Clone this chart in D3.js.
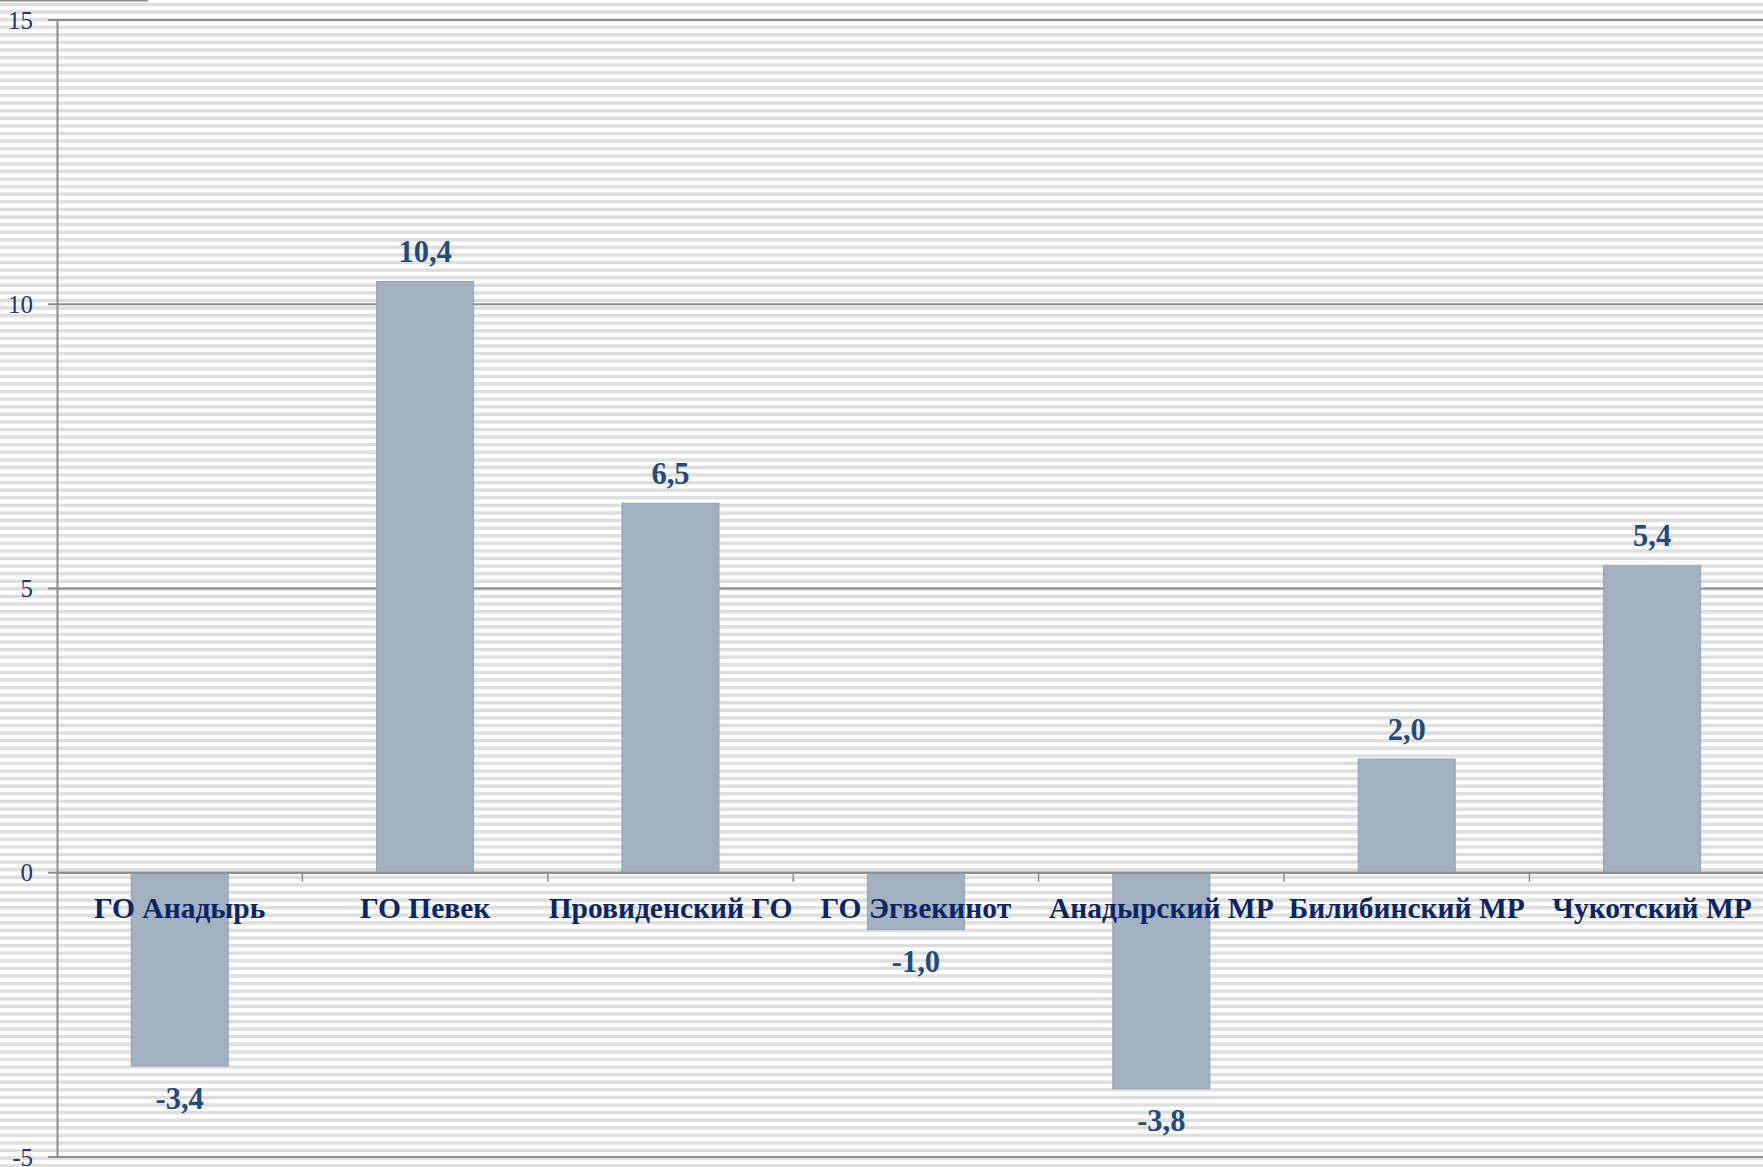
<!DOCTYPE html>
<html><head><meta charset="utf-8">
<script src="https://cdn.jsdelivr.net/npm/d3@7"></script>
<style>html,body{margin:0;padding:0;background:#fff;overflow:hidden}</style>
</head><body>
<script>
const categories = ["ГО Анадырь","ГО Певек","Провиденский ГО","ГО Эгвекинот","Анадырский МР","Билибинский МР","Чукотский МР"];
const values = [-3.4, 10.4, 6.5, -1.0, -3.8, 2.0, 5.4];
const valueLabels = ["-3,4","10,4","6,5","-1,0","-3,8","2,0","5,4"];
const yTicks = [-5, 0, 5, 10, 15];

(function () {
const W = 1763, H = 1167;
const mLeft = 57, mRight = 57 + 7 * 245.4, mTop = 20, mBottom = 1157;
const svg = d3.select("body").append("svg").attr("width", W).attr("height", H);

// striped background
const period = 7.59;
svg.append("g").selectAll("rect").data(d3.range(-1, Math.ceil(H / period) + 1)).join("rect")
  .attr("x", 0).attr("width", W)
  .attr("y", k => 4.45 + k * period - 1.7).attr("height", 3.4)
  .attr("fill", "#dedede");

// partial border top-left
svg.append("line").attr("x1", 0).attr("x2", 148).attr("y1", 0.5).attr("y2", 0.5)
  .attr("stroke", "#8c8c8c").attr("stroke-width", 2);

const x = d3.scaleBand().domain(categories).range([mLeft, mRight]).paddingInner(0).paddingOuter(0);
const y = d3.scaleLinear().domain([-5, 15]).range([mBottom, mTop]);

// gridlines
svg.append("g").selectAll("line").data(yTicks).join("line")
  .attr("x1", mLeft - 9).attr("x2", W).attr("y1", d => y(d)).attr("y2", d => y(d))
  .attr("stroke", "#8c8c8c").attr("stroke-width", 2);

// y axis
const yAxis = svg.append("g").attr("transform", `translate(${mLeft},0)`)
  .call(d3.axisLeft(y).tickValues(yTicks).tickSize(0).tickPadding(24).tickFormat(d => String(d)));
yAxis.select(".domain").attr("stroke", "#8c8c8c").attr("stroke-width", 2);
yAxis.selectAll("text").attr("font-family", "Liberation Serif").attr("font-size", 25)
  .attr("fill", "#1b3575");

// bars
const bw = 97;
svg.append("g").selectAll("rect").data(values).join("rect")
  .attr("x", (d, i) => x(categories[i]) + x.bandwidth() / 2 - bw / 2)
  .attr("width", bw)
  .attr("y", d => y(Math.max(0, d)))
  .attr("height", d => Math.abs(y(d) - y(0)))
  .attr("fill", "#a2b1c0").attr("stroke", "#94a1ae").attr("stroke-width", 1);

// zero axis line & category ticks
svg.append("line").attr("x1", mLeft).attr("x2", W).attr("y1", y(0)).attr("y2", y(0))
  .attr("stroke", "#8c8c8c").attr("stroke-width", 2);
svg.append("g").selectAll("line").data(categories.slice(1)).join("line")
  .attr("x1", d => x(d)).attr("x2", d => x(d)).attr("y1", y(0)).attr("y2", y(0) + 9)
  .attr("stroke", "#8c8c8c").attr("stroke-width", 1.5);

// category labels
svg.append("g").selectAll("text").data(categories).join("text")
  .attr("x", d => x(d) + x.bandwidth() / 2).attr("y", y(0) + 45)
  .attr("text-anchor", "middle").attr("font-family", "Liberation Serif").attr("font-weight", "bold")
  .attr("font-size", 29.5).attr("fill", "#0a2565").text(d => d);

// value labels
svg.append("g").selectAll("text").data(values).join("text")
  .attr("x", (d, i) => x(categories[i]) + x.bandwidth() / 2)
  .attr("y", d => d >= 0 ? y(d) - 30 : y(d) + 32)
  .attr("dy", "0.35em")
  .attr("text-anchor", "middle").attr("font-family", "Liberation Serif").attr("font-weight", "bold")
  .attr("font-size", 30.5).attr("fill", "#214b7b").text((d, i) => valueLabels[i]);
})();
</script>
</body></html>
